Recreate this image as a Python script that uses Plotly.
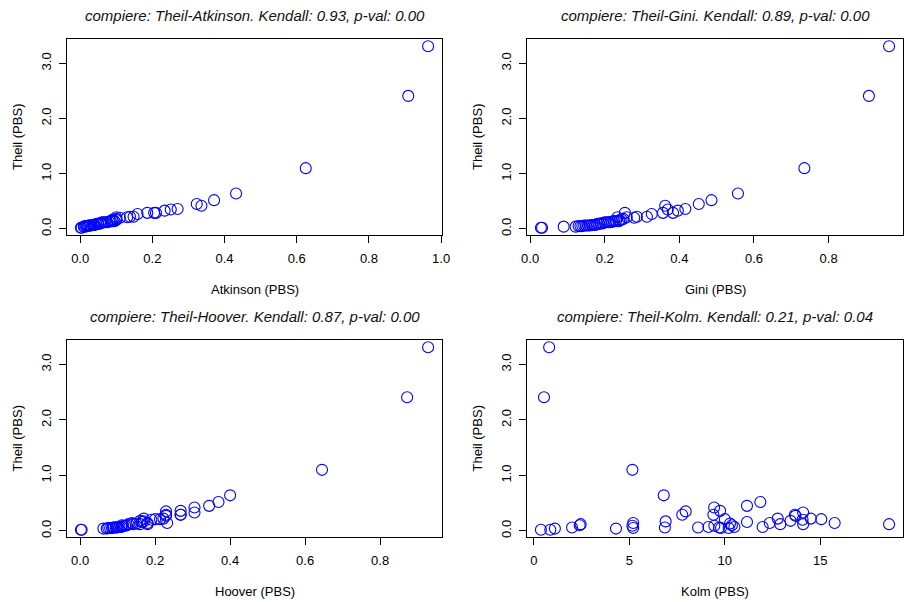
import plotly.graph_objects as go

# ---- data ----
theil = [0.02, 0.02, 0.04, 0.04, 0.05, 0.05, 0.05, 0.06, 0.06, 0.06, 0.06, 0.07,
         0.07, 0.07, 0.09, 0.09, 0.10, 0.10, 0.12, 0.12, 0.12, 0.12, 0.13, 0.14,
         0.14, 0.14, 0.16, 0.17, 0.18, 0.20, 0.21, 0.21, 0.22, 0.22, 0.27, 0.29,
         0.29, 0.29, 0.33, 0.35, 0.36, 0.42, 0.45, 0.52, 0.64, 1.10, 2.41, 3.31]
atkinson = [0.002, 0.004, 0.010, 0.012, 0.015, 0.018, 0.020, 0.022, 0.025, 0.028, 0.030, 0.035,
            0.038, 0.040, 0.045, 0.050, 0.055, 0.058, 0.060, 0.065, 0.070, 0.075, 0.080, 0.085,
            0.090, 0.095, 0.100, 0.090, 0.100, 0.110, 0.100, 0.130, 0.138, 0.148, 0.159, 0.186,
            0.205, 0.210, 0.234, 0.251, 0.270, 0.336, 0.323, 0.371, 0.432, 0.625, 0.909, 0.964]
gini = [0.029, 0.032, 0.090, 0.122, 0.130, 0.135, 0.140, 0.145, 0.150, 0.155, 0.160, 0.165,
        0.170, 0.175, 0.180, 0.185, 0.190, 0.195, 0.200, 0.205, 0.210, 0.215, 0.220, 0.225,
        0.230, 0.238, 0.240, 0.245, 0.250, 0.279, 0.234, 0.259, 0.286, 0.313, 0.326, 0.356,
        0.383, 0.254, 0.396, 0.369, 0.416, 0.362, 0.452, 0.486, 0.557, 0.735, 0.908, 0.962]
hoover = [0.002, 0.004, 0.062, 0.071, 0.075, 0.080, 0.085, 0.088, 0.090, 0.095, 0.098, 0.100,
          0.105, 0.110, 0.115, 0.120, 0.111, 0.125, 0.129, 0.160, 0.180, 0.140, 0.150, 0.138,
          0.180, 0.232, 0.165, 0.170, 0.160, 0.190, 0.213, 0.200, 0.170, 0.222, 0.229, 0.268,
          0.229, 0.268, 0.305, 0.229, 0.268, 0.305, 0.344, 0.369, 0.400, 0.645, 0.872, 0.928]
kolm = [0.37, 0.86, 1.10, 4.30, 5.20, 9.80, 10.20, 2.00, 6.86, 8.60, 9.70, 9.14,
        10.50, 11.98, 5.16, 9.45, 2.40, 10.37, 2.45, 12.90, 14.10, 18.60, 10.27, 5.20,
        12.35, 15.75, 11.16, 6.90, 13.44, 14.07, 10.00, 15.05, 12.77, 14.50, 13.70, 7.77,
        9.40, 13.67, 14.10, 7.95, 9.75, 9.44, 11.16, 11.86, 6.80, 5.16, 0.53, 0.80]

measures = ["Atkinson", "Gini", "Hoover", "Kolm"]
kendall = ["0.93", "0.89", "0.87", "0.21"]
pvals = ["0.00", "0.00", "0.00", "0.04"]
xticks = [[0.0, 0.2, 0.4, 0.6, 0.8, 1.0], [0.0, 0.2, 0.4, 0.6, 0.8, 1.0],
          [0.0, 0.2, 0.4, 0.6, 0.8], [0, 5, 10, 15]]
xticklabels = [["0.0", "0.2", "0.4", "0.6", "0.8", "1.0"], ["0.0", "0.2", "0.4", "0.6", "0.8", "1.0"],
               ["0.0", "0.2", "0.4", "0.6", "0.8"], ["0", "5", "10", "15"]]
yticks = [0.0, 1.0, 2.0, 3.0]
yticklabels = ["0.0", "1.0", "2.0", "3.0"]
xdata = [atkinson, gini, hoover, kolm]

# ---- layout geometry (pixels) ----
W, H = 909, 602
boxes = [(67, 442, 39, 235), (527, 903, 39, 235), (67, 442, 340, 537), (527, 903, 340, 537)]
FONT = "Liberation Sans, Arial, sans-serif"

def rrange(v):
    lo, hi = min(v), max(v)
    d = (hi - lo) * 0.04
    return [lo - d, hi + d]

fig = go.Figure()
annotations = []
for i in range(4):
    x0, x1, yt, yb = boxes[i]
    n = "" if i == 0 else str(i + 1)
    fig.add_trace(go.Scatter(
        x=xdata[i], y=theil, mode="markers", xaxis="x" + n, yaxis="y" + n,
        marker=dict(symbol="circle-open", size=11, color="#0000FF", line=dict(width=1.1, color="#0000FF")),
        showlegend=False, hoverinfo="x+y"))
    axstyle = dict(showline=True, mirror=True, linecolor="black", linewidth=1,
                   ticks="outside", ticklen=7, tickwidth=1, tickcolor="black",
                   showgrid=False, zeroline=False, automargin=False,
                   tickfont=dict(family=FONT, size=13, color="black"))
    fig.layout["xaxis" + n] = dict(domain=[x0 / W, x1 / W], anchor="y" + n,
                                   range=rrange(xdata[i]), tickvals=xticks[i], ticktext=xticklabels[i],
                                   ticklabelstandoff=4, **axstyle)
    fig.layout["yaxis" + n] = dict(domain=[1 - yb / H, 1 - yt / H], anchor="x" + n,
                                   range=rrange(theil), tickvals=yticks, ticktext=yticklabels,
                                   tickangle=-90, ticklabelstandoff=3, **axstyle)
    cx = (x0 + x1) / 2
    annotations.append(dict(
        text="compiere: Theil-%s. Kendall: %s, p-val: %s" % (measures[i], kendall[i], pvals[i]),
        x=cx / W, y=1 - (yt - 23) / H, xref="paper", yref="paper", showarrow=False,
        xanchor="center", yanchor="middle",
        font=dict(family=FONT, size=15, color="#111111", style="italic")))
    annotations.append(dict(
        text="%s (PBS)" % measures[i], x=cx / W, y=1 - (yb + 54) / H, xref="paper", yref="paper",
        showarrow=False, xanchor="center", yanchor="middle",
        font=dict(family=FONT, size=13, color="black")))
    annotations.append(dict(
        text="Theil (PBS)", x=(x0 - 50) / W, y=1 - ((yt + yb) / 2) / H, xref="paper", yref="paper",
        showarrow=False, xanchor="center", yanchor="middle", textangle=-90,
        font=dict(family=FONT, size=13, color="black")))

fig.update_layout(width=W, height=H, margin=dict(l=0, r=0, t=0, b=0),
                  paper_bgcolor="white", plot_bgcolor="white", annotations=annotations)
fig.write_html("out.html", config={"displayModeBar": False},
               post_script="document.body.style.margin='0px';document.body.style.overflow='hidden';")
